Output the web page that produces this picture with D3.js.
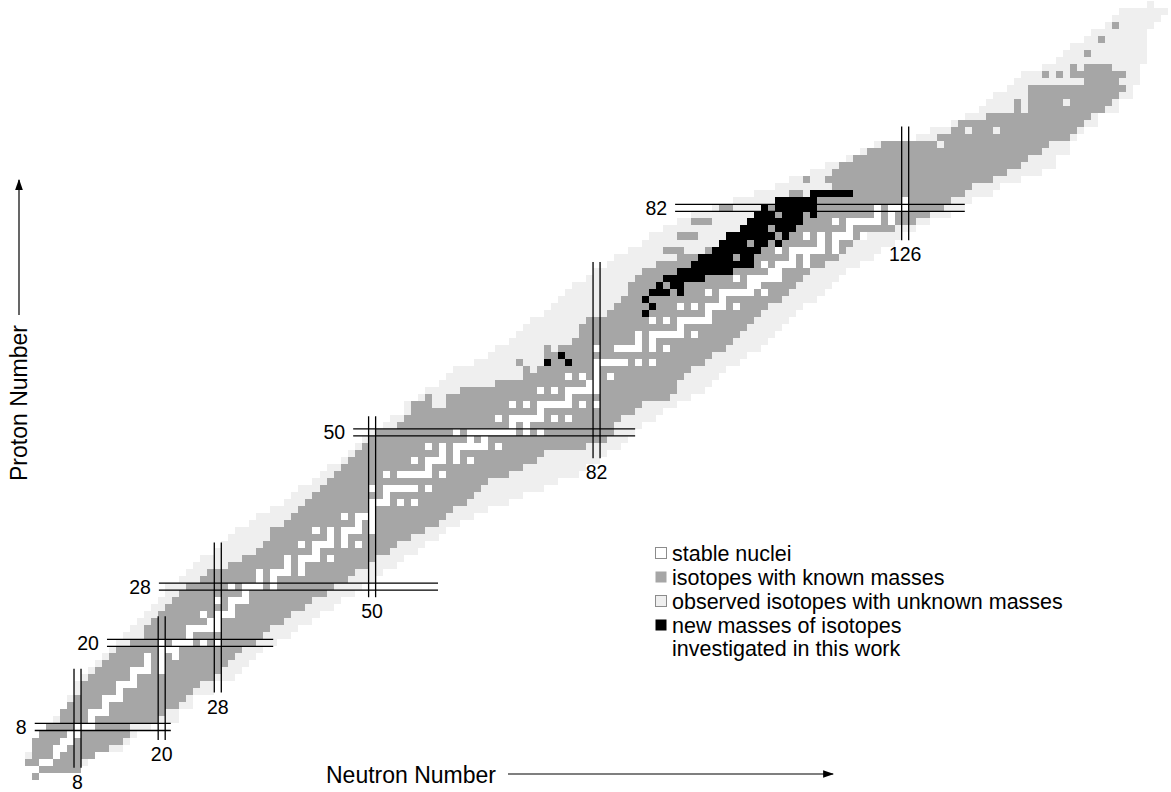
<!DOCTYPE html>
<html>
<head>
<meta charset="utf-8">
<script src="https://cdn.jsdelivr.net/npm/d3@7"></script>
<style>
  body { margin: 0; background: #fff; }
  svg text { font-family: "Liberation Sans", Arial, Helvetica, sans-serif; fill: #000; }
</style>
</head>
<body>
<svg id="chart" width="1171" height="792"></svg>
<script>
// Nuclide chart: one row per proton number Z (index = Z - 1), ranges in neutron number N.
const observedFrom = [
  2, 1, 1, 1, 2, 2, 3, 4, 5, 6,
  7, 7, 8, 8, 9, 10, 11, 12, 13, 14,
  15, 16, 17, 18, 19, 20, 21, 21, 23, 24,
  25, 26, 28, 29, 30, 31, 33, 34, 36, 38,
  39, 40, 42, 43, 44, 46, 47, 48, 49, 50,
  52, 53, 55, 55, 57, 58, 60, 61, 62, 65,
  67, 68, 70, 71, 72, 73, 75, 76, 77, 78,
  79, 81, 82, 84, 85, 87, 89, 90, 92, 94,
  96, 99, 102, 105, 108, 110, 113, 115, 118, 120,
  122, 128, 130, 133, 135, 137, 138, 139, 141, 142,
  143, 146, 148, 149, 150, 152, 153, 155, 156, 157,
  161
];
const observedTo = [
  2, 8, 9, 10, 14, 15, 16, 18, 22, 22,
  24, 24, 27, 27, 30, 31, 32, 33, 34, 36,
  38, 39, 41, 42, 44, 45, 47, 48, 50, 51,
  53, 54, 56, 57, 59, 60, 62, 64, 66, 69,
  71, 74, 76, 79, 80, 82, 83, 85, 86, 87,
  88, 90, 91, 93, 95, 97, 98, 99, 100, 102,
  103, 105, 106, 107, 108, 109, 110, 111, 113, 114,
  115, 116, 117, 119, 121, 122, 124, 125, 127, 129,
  132, 134, 135, 138, 139, 142, 145, 147, 147, 149,
  149, 150, 151, 153, 153, 156, 156, 158, 158, 159,
  159, 159, 160, 160, 160, 160, 160, 161, 162, 163,
  161
];
const knownFrom = [
  2, 1, 1, 2, 2, 2, 3, 4, 6, 6,
  7, 8, 9, 9, 10, 11, 12, 13, 14, 16,
  18, 18, 19, 20, 21, 22, 23, 24, 26, 27,
  30, 32, 34, 35, 36, 36, 38, 39, 40, 41,
  42, 43, 44, 45, 46, 47, 48, 49, 50, 51,
  54, 55, 56, 56, 61, 63, 68, 72, 74, 75,
  75, 75, 79, 80, 80, 81, 84, 85, 86, 87,
  87, 88, 89, 91, 94, 98, 100, 101, 103, 104,
  105, 106, 108, 113, 116, 115, 116, 117, 119, 121,
  123, 131, 133, 134, 138, 142, 142, 144, 144, 152,
  150, 152, null, null, null, null, null, null, null, null,
  null
];
const knownTo = [
  2, 8, 8, 10, 12, 14, 15, 15, 19, 20,
  22, 23, 24, 25, 27, 28, 29, 30, 31, 33,
  34, 35, 37, 38, 40, 41, 43, 44, 46, 47,
  49, 50, 52, 53, 55, 57, 59, 60, 61, 63,
  64, 65, 66, 69, 71, 73, 74, 80, 83, 84,
  84, 85, 87, 88, 92, 93, 93, 94, 95, 97,
  98, 100, 101, 102, 103, 104, 105, 106, 108, 109,
  110, 111, 112, 114, 116, 117, 118, 120, 124, 127,
  129, 131, 132, 134, 135, 138, 140, 142, 143, 145,
  146, 149, 150, 151, 152, 154, 155, 156, 157, 156,
  157, 155, null, null, null, null, null, null, null, null,
  null
];
const protonNumbers = observedFrom.map((_, i) => i + 1);

// Known masses lying apart from the main block of a row: [Z, N]
const isolatedKnown = [
  [55, 58], [59, 72], [60, 71],
  [76, 92], [76, 93], [76, 94], [78, 94], [78, 95], [78, 96],
  [80, 96], [80, 97], [80, 98], [82, 100], [82, 101],
  [84, 110], [84, 111], [86, 112],
  [101, 146], [101, 148], [102, 150], [104, 152], [106, 154], [108, 156]
];
// Observed nuclides with unknown mass inside a known block: [Z, N]
const unknownInside = [
  [54, 59], [54, 60], [62, 76], [91, 131], [93, 135], [93, 139],
  [96, 143], [97, 143], [97, 149]
];
// Stable nuclei: [Z, neutron numbers]
const stableNuclei = [
  [1, [0, 1]], [2, [1, 2]], [3, [3, 4]], [4, [5]], [5, [5, 6]], [6, [6, 7]], [7, [7, 8]],
  [8, [8, 9, 10]], [9, [10]], [10, [10, 11, 12]], [11, [12]], [12, [12, 13, 14]], [13, [14]],
  [14, [14, 15, 16]], [15, [16]], [16, [16, 17, 18, 20]], [17, [18, 20]], [18, [18, 20, 22]],
  [19, [20, 21, 22]], [20, [20, 22, 23, 24, 26, 28]], [21, [24]], [22, [24, 25, 26, 27, 28]],
  [23, [27, 28]], [24, [26, 28, 29, 30]], [25, [30]], [26, [28, 30, 31, 32]], [27, [32]],
  [28, [30, 32, 33, 34, 36]], [29, [34, 36]], [30, [34, 36, 37, 38, 40]], [31, [38, 40]],
  [32, [38, 40, 41, 42, 44]], [33, [42]], [34, [40, 42, 43, 44, 46, 48]], [35, [44, 46]],
  [36, [42, 44, 46, 47, 48, 50]], [37, [48, 50]], [38, [46, 48, 49, 50]], [39, [50]],
  [40, [50, 51, 52, 54, 56]], [41, [52]], [42, [50, 52, 53, 54, 55, 56, 58]],
  [44, [52, 54, 55, 56, 57, 58, 60]], [45, [58]], [46, [56, 58, 59, 60, 62, 64]], [47, [60, 62]],
  [48, [58, 60, 62, 63, 64, 65, 66, 68]], [49, [64, 66]],
  [50, [62, 64, 65, 66, 67, 68, 69, 70, 72, 74]], [51, [70, 72]],
  [52, [68, 70, 71, 72, 73, 74, 76, 78]], [53, [74]], [54, [70, 72, 74, 75, 76, 77, 78, 80, 82]],
  [55, [78]], [56, [74, 76, 78, 79, 80, 81, 82]], [57, [81, 82]], [58, [78, 80, 82, 84]],
  [59, [82]], [60, [82, 83, 84, 85, 86, 88, 90]], [62, [82, 85, 86, 87, 88, 90, 92]],
  [63, [88, 90]], [64, [88, 90, 91, 92, 93, 94, 96]], [65, [94]], [66, [90, 92, 94, 95, 96, 97, 98]],
  [67, [98]], [68, [94, 96, 98, 99, 100, 102]], [69, [100]], [70, [98, 100, 101, 102, 103, 104, 106]],
  [71, [104, 105]], [72, [102, 104, 105, 106, 107, 108]], [73, [107, 108]],
  [74, [106, 108, 109, 110, 112]], [75, [110, 112]], [76, [108, 110, 111, 112, 113, 114, 116]],
  [77, [114, 116]], [78, [112, 114, 116, 117, 118, 120]], [79, [118]],
  [80, [116, 118, 119, 120, 121, 122, 124]], [81, [122, 124]], [82, [122, 124, 125, 126]],
  [83, [126]]
];
// Masses newly determined in this work: [Z, neutron numbers]
const newMasses = [
  [60, [75, 78]], [61, [77]],
  [67, [89]], [68, [90]], [69, [89]],
  [70, [90, 91, 92, 94]], [71, [91, 93, 94]], [72, [92, 93, 94, 95, 96, 97]],
  [73, [94, 95, 96, 97, 98, 99, 100, 101]], [74, [96, 97, 98, 99, 100, 101, 102, 103, 104]],
  [75, [97, 98, 99, 100, 101, 103, 104]], [76, [99, 100, 101, 102, 103, 104, 105]],
  [77, [100, 101, 102, 103, 105, 106, 108]], [78, [101, 102, 103, 104, 105, 106, 107, 109]],
  [79, [103, 104, 105, 106, 108, 109, 110]], [80, [104, 105, 106, 107, 108, 109, 110, 111]],
  [81, [105, 106, 107, 109, 110, 111, 113]], [82, [106, 108, 109, 110, 111, 112, 113]],
  [83, [108, 109, 110, 111, 112, 113]], [84, [113, 114, 115, 116, 117, 118]]
];
// Magic numbers, each with the span (in the other coordinate) its double line covers
const magicNeutrons = [8, 20, 28, 50, 82, 126];
const magicNeutronSpan = [[2.7, 16.8], [6.65, 24.3], [13.4, 34.8], [27, 52.8], [46.8, 74.8], [77.9, 94.1]];
const magicProtons = [8, 20, 28, 50, 82];
const magicProtonSpan = [[2.4, 21.8], [12.7, 36.4], [20.1, 59.9], [47.8, 88], [93.7, 135]];

const legendLabels = [
  ["stable nuclei"],
  ["isotopes with known masses"],
  ["observed isotopes with unknown masses"],
  ["new masses of isotopes", "investigated in this work"]
];

const COLORS = { observed: "#efefef", known: "#a6a6a6", stable: "#ffffff", fresh: "#000000" };

const svg = d3.select("#chart");
const cell = 7.014;
const x = d3.scaleLinear().domain([0, 1]).range([17.9, 17.9 + cell]);
const y = d3.scaleLinear().domain([0, 1]).range([786.6, 786.6 - cell]);

const cells = svg.append("g").attr("shape-rendering", "crispEdges");

function band(z, n0, n1, color) {
  cells.append("rect")
    .attr("x", x(n0)).attr("y", y(z + 1))
    .attr("width", x(n1 + 1) - x(n0)).attr("height", y(z) - y(z + 1))
    .attr("fill", color);
}

protonNumbers.forEach((z, i) => {
  band(z, observedFrom[i], observedTo[i], COLORS.observed);
});
protonNumbers.forEach((z, i) => {
  if (knownFrom[i] !== null) band(z, knownFrom[i], knownTo[i], COLORS.known);
});
isolatedKnown.forEach(([z, n]) => band(z, n, n, COLORS.known));
unknownInside.forEach(([z, n]) => band(z, n, n, COLORS.observed));
stableNuclei.forEach(([z, ns]) => ns.forEach(n => band(z, n, n, COLORS.stable)));
newMasses.forEach(([z, ns]) => ns.forEach(n => band(z, n, n, COLORS.fresh)));

// Magic-number double lines and labels
const lines = svg.append("g").attr("stroke", "#000").attr("stroke-width", 1.3);
const labels = svg.append("g").attr("font-size", 19.5);
magicNeutrons.forEach((n, i) => {
  const [z0, z1] = magicNeutronSpan[i];
  [n, n + 1].forEach(edge => {
    lines.append("line").attr("x1", x(edge)).attr("x2", x(edge)).attr("y1", y(z1)).attr("y2", y(z0));
  });
  labels.append("text").attr("x", x(n + 0.5)).attr("y", y(z0) + 21)
    .attr("text-anchor", "middle").text(n);
});
magicProtons.forEach((z, i) => {
  const [n0, n1] = magicProtonSpan[i];
  [z, z + 1].forEach(edge => {
    lines.append("line").attr("x1", x(n0)).attr("x2", x(n1)).attr("y1", y(edge)).attr("y2", y(edge));
  });
  labels.append("text").attr("x", x(n0) - 8).attr("y", y(z + 0.5)).attr("dy", "0.36em")
    .attr("text-anchor", "end").text(z);
});

// Legend
const legend = svg.append("g").attr("transform", "translate(655,553)");
const swatch = [
  { fill: COLORS.stable, stroke: "#8c8c8c" },
  { fill: COLORS.known, stroke: "none" },
  { fill: COLORS.observed, stroke: "#8c8c8c" },
  { fill: COLORS.fresh, stroke: "none" }
];
legendLabels.forEach((rows, i) => {
  const g = legend.append("g").attr("transform", `translate(0,${i * 24})`);
  g.append("rect").attr("x", 0.5).attr("y", -5.5).attr("width", 11).attr("height", 11)
    .attr("fill", swatch[i].fill).attr("stroke", swatch[i].stroke);
  rows.forEach((t, j) => {
    g.append("text").attr("x", 17).attr("y", j * 23).attr("dy", "0.36em")
      .attr("font-size", 21.5).text(t);
  });
});

// Axis titles with arrows
svg.append("defs").append("marker")
  .attr("id", "arrow").attr("viewBox", "0 0 10 10").attr("refX", 9).attr("refY", 5)
  .attr("markerWidth", 11).attr("markerHeight", 11).attr("markerUnits", "userSpaceOnUse")
  .attr("orient", "auto")
  .append("path").attr("d", "M0,1.5 L10,5 L0,8.5 Z").attr("fill", "#000");

svg.append("text").attr("x", 326).attr("y", 783).attr("font-size", 23).text("Neutron Number");
svg.append("line").attr("x1", 508).attr("x2", 833).attr("y1", 774).attr("y2", 774)
  .attr("stroke", "#000").attr("stroke-width", 1.2).attr("marker-end", "url(#arrow)");

svg.append("text").attr("transform", "translate(27,481) rotate(-90)")
  .attr("font-size", 23).text("Proton Number");
svg.append("line").attr("x1", 19).attr("x2", 19).attr("y1", 315).attr("y2", 180)
  .attr("stroke", "#000").attr("stroke-width", 1.2).attr("marker-end", "url(#arrow)");
</script>
</body>
</html>
